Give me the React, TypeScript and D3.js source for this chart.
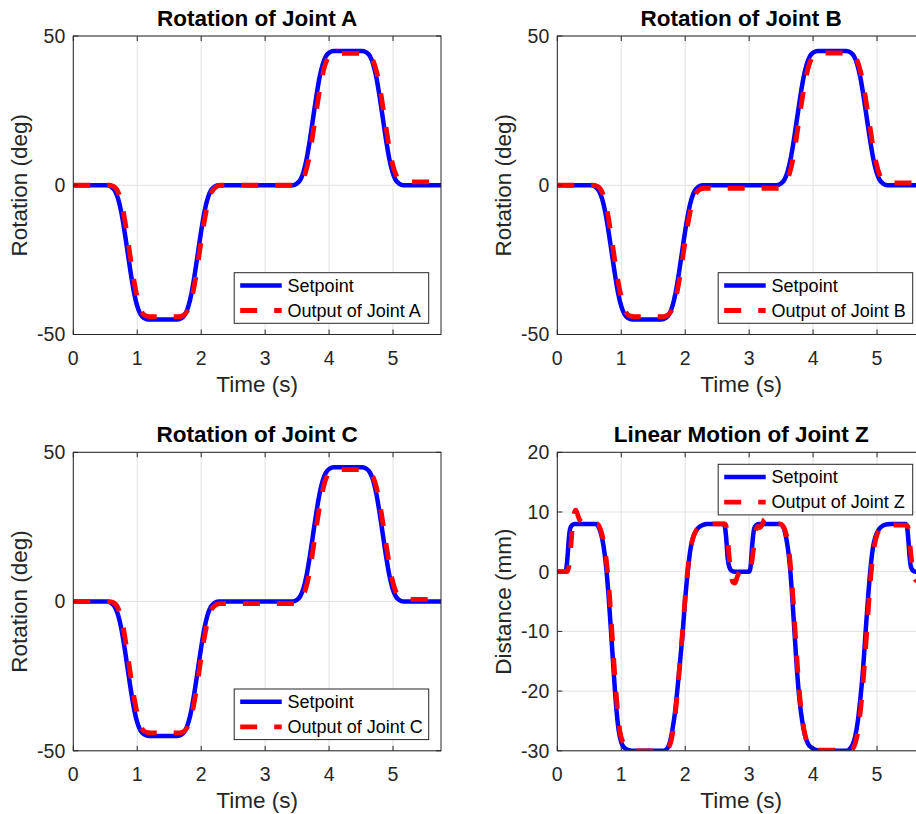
import React from "react";
import * as d3 from "d3";

// ---------- data (time in s, value) ----------
const timeTicks = [0, 1, 2, 3, 4, 5];
const rotTicks = [-50, 0, 50];
const distTicks = [-30, -20, -10, 0, 10, 20];

const setpointRot: [number, number][] = [
  [0, 0], [0.53, 0], [0.59, -0.45], [0.65, -1.8], [0.7, -4.5], [0.75, -9], [0.8, -15.3], [0.85, -22.5], [0.9, -29.7], [0.95, -36], [1.0, -40.5], [1.05, -43.2], [1.11, -44.55], [1.17, -45],
  [1.63, -45], [1.69, -44.55], [1.75, -43.2], [1.8, -40.5], [1.85, -36], [1.9, -29.7], [1.95, -22.5], [2.0, -15.3], [2.05, -9], [2.1, -4.5], [2.15, -1.8], [2.21, -0.45], [2.27, 0],
  [3.43, 0], [3.49, 0.45], [3.55, 1.8], [3.6, 4.5], [3.65, 9], [3.7, 15.3], [3.75, 22.5], [3.8, 29.7], [3.85, 36], [3.9, 40.5], [3.95, 43.2], [4.01, 44.55], [4.07, 45],
  [4.52, 45], [4.58, 44.55], [4.64, 43.2], [4.69, 40.5], [4.74, 36], [4.79, 29.7], [4.84, 22.5], [4.89, 15.3], [4.94, 9], [4.99, 4.5], [5.04, 1.8], [5.1, 0.45], [5.16, 0], [5.75, 0],
];

const outputA: [number, number][] = [
  [0, 0], [0.56, 0], [0.62, -0.3], [0.68, -1.4], [0.73, -4], [0.78, -8.5], [0.83, -15], [0.88, -22.3], [0.93, -29.5], [0.98, -35.5], [1.03, -40], [1.08, -42.8], [1.14, -43.8], [1.2, -44],
  [1.66, -44], [1.72, -43.6], [1.78, -42.2], [1.83, -39.5], [1.88, -35], [1.93, -28.8], [1.98, -21.5], [2.03, -14.5], [2.08, -8.5], [2.12, -4.5], [2.17, -2], [2.23, -0.6], [2.3, 0],
  [3.46, 0], [3.52, 0.4], [3.58, 1.6], [3.63, 4.2], [3.68, 8.5], [3.73, 14.8], [3.78, 22], [3.83, 29], [3.88, 35.2], [3.93, 39.8], [3.98, 42.6], [4.04, 43.9], [4.1, 44.2],
  [4.55, 44.2], [4.61, 43.8], [4.67, 42.5], [4.72, 39.8], [4.77, 35.5], [4.82, 29.3], [4.87, 22.3], [4.92, 15.3], [4.97, 9.2], [5.02, 5], [5.07, 2.6], [5.13, 1.5], [5.2, 1.1], [5.75, 1.1],
];

const outputB: [number, number][] = [
  [0, 0], [0.56, 0], [0.62, -0.3], [0.68, -1.4], [0.73, -4], [0.78, -8.5], [0.83, -15], [0.88, -22.3], [0.93, -29.5], [0.98, -35.5], [1.03, -40], [1.08, -42.8], [1.14, -43.8], [1.2, -44],
  [1.66, -44], [1.72, -43.6], [1.78, -42.2], [1.83, -39.5], [1.88, -35], [1.93, -28.8], [1.98, -21.5], [2.03, -14.5], [2.08, -8.6], [2.12, -4.8], [2.17, -2.6], [2.23, -1.4], [2.3, -1],
  [3.46, -1], [3.52, -0.5], [3.58, 1], [3.63, 3.8], [3.68, 8.2], [3.73, 14.6], [3.78, 21.9], [3.83, 29], [3.88, 35.2], [3.93, 39.8], [3.98, 42.7], [4.04, 44], [4.1, 44.3],
  [4.55, 44.3], [4.61, 43.9], [4.67, 42.6], [4.72, 39.8], [4.77, 35.5], [4.82, 29.3], [4.87, 22.3], [4.92, 15.3], [4.97, 9.1], [5.02, 4.8], [5.07, 2.3], [5.13, 1.2], [5.2, 0.8], [5.75, 0.8],
];

const outputC: [number, number][] = [
  [0, 0], [0.56, 0], [0.62, -0.3], [0.68, -1.4], [0.73, -4], [0.78, -8.5], [0.83, -15], [0.88, -22.3], [0.93, -29.5], [0.98, -35.5], [1.03, -40], [1.08, -42.8], [1.14, -43.8], [1.2, -44],
  [1.66, -44], [1.72, -43.6], [1.78, -42.2], [1.83, -39.5], [1.88, -35], [1.93, -28.8], [1.98, -21.5], [2.03, -14.5], [2.08, -8.6], [2.12, -4.7], [2.17, -2.3], [2.23, -1.1], [2.3, -0.7],
  [3.46, -0.7], [3.52, -0.3], [3.58, 1.2], [3.63, 4], [3.68, 8.3], [3.73, 14.7], [3.78, 22], [3.83, 29], [3.88, 35.2], [3.93, 39.8], [3.98, 42.6], [4.04, 43.9], [4.1, 44.2],
  [4.55, 44.2], [4.61, 43.8], [4.67, 42.5], [4.72, 39.8], [4.77, 35.5], [4.82, 29.3], [4.87, 22.3], [4.92, 15.3], [4.97, 9.1], [5.02, 4.8], [5.07, 2.3], [5.13, 1.1], [5.2, 0.7], [5.75, 0.7],
];

const setpointZ: [number, number][] = [
  [0, 0], [0.12, 0], [0.14, 0.5], [0.16, 2.5], [0.18, 5.5], [0.2, 7.2], [0.23, 7.8], [0.27, 8],
  [0.6, 8], [0.64, 7.6], [0.68, 6.5], [0.72, 4.5], [0.76, 1.2], [0.8, -3.8], [0.84, -10], [0.88, -16.5], [0.92, -22.5], [0.96, -26.6], [1.0, -28.6], [1.05, -29.5], [1.12, -29.9], [1.2, -30],
  [1.66, -30], [1.72, -29.6], [1.76, -28.6], [1.8, -26.5], [1.84, -23.6], [1.88, -19.5], [1.92, -15], [1.96, -10.3], [2.0, -4.5], [2.04, 0], [2.08, 3.6], [2.12, 5.6], [2.16, 6.7], [2.21, 7.4], [2.27, 7.8], [2.35, 8],
  [2.6, 8], [2.62, 7.6], [2.64, 5.8], [2.665, 2.2], [2.69, 0.8], [2.72, 0.2], [2.77, 0],
  [3.0, 0], [3.02, 0.6], [3.04, 3.3], [3.06, 5.8], [3.08, 7.3], [3.11, 7.8], [3.15, 8],
  [3.48, 8], [3.52, 7.7], [3.55, 7], [3.58, 5.6], [3.61, 3.6], [3.64, 0.6], [3.67, -3.6], [3.71, -10.3], [3.75, -16.8], [3.79, -21.7], [3.83, -25], [3.87, -27.3], [3.92, -28.8], [3.98, -29.5], [4.06, -29.9], [4.14, -30],
  [4.52, -30], [4.58, -29.6], [4.62, -28.9], [4.66, -27.5], [4.7, -25], [4.74, -21.2], [4.78, -16.5], [4.82, -10.3], [4.86, -4.3], [4.9, 0.8], [4.94, 4.3], [4.98, 6], [5.03, 7.1], [5.09, 7.7], [5.16, 7.95], [5.22, 8],
  [5.45, 8], [5.47, 7.5], [5.49, 5.3], [5.51, 2.4], [5.53, 0.8], [5.56, 0.2], [5.6, 0], [5.75, 0],
];

const outputZ: [number, number][] = [
  [0, 0], [0.15, 0], [0.17, 0.4], [0.19, 1.5], [0.21, 4], [0.23, 6.8], [0.25, 8.8], [0.27, 10], [0.29, 10.3], [0.31, 9.8], [0.34, 8.9], [0.38, 8.3], [0.42, 8.2], [0.46, 8.4], [0.5, 8.2], [0.56, 8],
  [0.62, 8], [0.66, 7.5], [0.7, 6.2], [0.74, 4], [0.78, 0.6], [0.82, -4.5], [0.86, -11], [0.9, -17.5], [0.94, -23], [0.98, -26.8], [1.02, -28.4], [1.06, -28.9], [1.1, -29.5], [1.16, -29.9], [1.22, -30],
  [1.68, -30], [1.74, -29.5], [1.78, -28.3], [1.82, -26], [1.86, -22.3], [1.9, -17.5], [1.94, -12.5], [1.98, -7], [2.02, -1.8], [2.06, 2.2], [2.1, 4.8], [2.14, 6.2], [2.19, 7.2], [2.25, 7.8], [2.32, 8],
  [2.62, 8], [2.64, 7.6], [2.66, 6], [2.68, 3.5], [2.7, 1], [2.72, -0.8], [2.75, -1.8], [2.78, -1.9], [2.81, -1], [2.85, 0], [2.9, 0.3], [3.0, 0.4],
  [3.02, 0.5], [3.04, 1.5], [3.07, 4], [3.1, 6.5], [3.13, 7.6], [3.17, 7.4], [3.21, 8], [3.24, 8.8], [3.27, 8.1], [3.32, 8],
  [3.48, 8], [3.52, 7.8], [3.56, 7], [3.6, 5.2], [3.63, 2.8], [3.66, -0.6], [3.69, -5], [3.73, -11.7], [3.77, -18], [3.81, -22.8], [3.85, -26], [3.89, -28], [3.94, -29.2], [4.0, -29.7], [4.08, -29.9],
  [4.55, -29.9], [4.6, -29.8], [4.64, -29.3], [4.68, -27.9], [4.72, -25.2], [4.76, -21.2], [4.8, -16], [4.84, -10], [4.88, -3.8], [4.92, 1.2], [4.96, 4.5], [5.0, 6.2], [5.05, 7.2], [5.11, 7.6], [5.18, 7.8],
  [5.46, 7.8], [5.48, 7.6], [5.5, 6.2], [5.52, 4], [5.54, 1.8], [5.56, 0], [5.58, -1], [5.62, -1.5], [5.66, -1], [5.75, -0.5],
];

// ---------- layout ----------
const W = 916;
const H = 814;
const PW = 367.7;
const PH = 298.5;
const FONT = "'Liberation Sans', Arial, Helvetica, sans-serif";
const AX = "#262626";

type Panel = {
  id: string;
  title: string;
  ylabel: string;
  yDomain: [number, number];
  yTicks: number[];
  setpoint: [number, number][];
  output: [number, number][];
  outLabel: string;
  left: number;
  top: number;
  legendPos: "br" | "tr";
};

const panels: Panel[] = [
  { id: "A", title: "Rotation of Joint A", ylabel: "Rotation (deg)", yDomain: [-50, 50], yTicks: rotTicks, setpoint: setpointRot, output: outputA, outLabel: "Output of Joint A", left: 73.3, top: 36, legendPos: "br" },
  { id: "B", title: "Rotation of Joint B", ylabel: "Rotation (deg)", yDomain: [-50, 50], yTicks: rotTicks, setpoint: setpointRot, output: outputB, outLabel: "Output of Joint B", left: 557.3, top: 36, legendPos: "br" },
  { id: "C", title: "Rotation of Joint C", ylabel: "Rotation (deg)", yDomain: [-50, 50], yTicks: rotTicks, setpoint: setpointRot, output: outputC, outLabel: "Output of Joint C", left: 73.3, top: 452.3, legendPos: "br" },
  { id: "Z", title: "Linear Motion of Joint Z", ylabel: "Distance (mm)", yDomain: [-30, 20], yTicks: distTicks, setpoint: setpointZ, output: outputZ, outLabel: "Output of Joint Z", left: 557.3, top: 452.3, legendPos: "tr" },
];

function PanelView({ p }: { p: Panel }) {
  const x = d3.scaleLinear().domain([0, 5.75]).range([p.left, p.left + PW]);
  const y = d3.scaleLinear().domain(p.yDomain).range([p.top + PH, p.top]);
  const line = d3
    .line<[number, number]>()
    .x((d) => x(d[0]))
    .y((d) => y(d[1]))
    .curve(d3.curveMonotoneX);
  const right = p.left + PW;
  const bottom = p.top + PH;
  const cx = p.left + PW / 2;
  const cy = p.top + PH / 2;
  const lw = 194.5;
  const lh = 50.6;
  const lx = right - 12.3 - lw;
  const ly = p.legendPos === "br" ? bottom - 11.2 - lh : p.top + 12;
  const clipId = "clip" + p.id;
  const tickLen = 5;
  return (
    <g>
      <defs>
        <clipPath id={clipId}>
          <rect x={p.left} y={p.top} width={PW} height={PH} />
        </clipPath>
      </defs>
      <rect x={p.left} y={p.top} width={PW} height={PH} fill="#fff" />
      {timeTicks.map((t) => (
        <line key={"gx" + t} x1={x(t)} x2={x(t)} y1={p.top} y2={bottom} stroke="#e1e1e1" strokeWidth={1} />
      ))}
      {p.yTicks.map((v) => (
        <line key={"gy" + v} x1={p.left} x2={right} y1={y(v)} y2={y(v)} stroke="#e1e1e1" strokeWidth={1} />
      ))}
      <g clipPath={`url(#${clipId})`}>
        <path d={line(p.setpoint) || ""} fill="none" stroke="#0000ff" strokeWidth={4.5} strokeLinejoin="round" />
        <path d={line(p.output) || ""} fill="none" stroke="#ff0000" strokeWidth={4.8} strokeDasharray="17,17" />
      </g>
      <rect x={p.left} y={p.top} width={PW} height={PH} fill="none" stroke={AX} strokeWidth={1} />
      {timeTicks.map((t) => (
        <g key={"tx" + t}>
          <line x1={x(t)} x2={x(t)} y1={bottom} y2={bottom - tickLen} stroke={AX} />
          <line x1={x(t)} x2={x(t)} y1={p.top} y2={p.top + tickLen} stroke={AX} />
          <text x={x(t)} y={bottom + 30} textAnchor="middle" fontFamily={FONT} fontSize={19.5} fill={AX}>
            {t}
          </text>
        </g>
      ))}
      {p.yTicks.map((v) => (
        <g key={"ty" + v}>
          <line x1={p.left} x2={p.left + tickLen} y1={y(v)} y2={y(v)} stroke={AX} />
          <line x1={right} x2={right - tickLen} y1={y(v)} y2={y(v)} stroke={AX} />
          <text x={p.left - 8} y={y(v) + 6.8} textAnchor="end" fontFamily={FONT} fontSize={19.5} fill={AX}>
            {v}
          </text>
        </g>
      ))}
      <text x={cx} y={p.top - 10} textAnchor="middle" fontFamily={FONT} fontSize={22.5} fontWeight="bold" fill="#000">
        {p.title}
      </text>
      <text x={cx} y={bottom + 57} textAnchor="middle" fontFamily={FONT} fontSize={22.5} fill={AX}>
        Time (s)
      </text>
      <text
        transform={`translate(${p.left - 46},${cy}) rotate(-90)`}
        textAnchor="middle"
        fontFamily={FONT}
        fontSize={22.5}
        fill={AX}
      >
        {p.ylabel}
      </text>
      <g>
        <rect x={lx} y={ly} width={lw} height={lh} fill="#fff" stroke={AX} strokeWidth={1} />
        <line x1={lx + 6} x2={lx + 47.5} y1={ly + 12.8} y2={ly + 12.8} stroke="#0000ff" strokeWidth={4.5} />
        <text x={lx + 53.4} y={ly + 19} fontFamily={FONT} fontSize={18} fill="#000">
          Setpoint
        </text>
        <line x1={lx + 6} x2={lx + 47.5} y1={ly + 37.8} y2={ly + 37.8} stroke="#ff0000" strokeWidth={4.8} strokeDasharray="17,17" />
        <text x={lx + 53.4} y={ly + 44} fontFamily={FONT} fontSize={18} fill="#000">
          {p.outLabel}
        </text>
      </g>
    </g>
  );
}

export default function App() {
  return (
    <svg
      width={W}
      height={H}
      viewBox={`0 0 ${W} ${H}`}
      style={{ position: "absolute", left: 0, top: 0, background: "#fff", overflow: "hidden" }}
    >
      <rect x={0} y={0} width={W} height={H} fill="#fff" />
      {panels.map((p) => (
        <PanelView key={p.id} p={p} />
      ))}
    </svg>
  );
}
